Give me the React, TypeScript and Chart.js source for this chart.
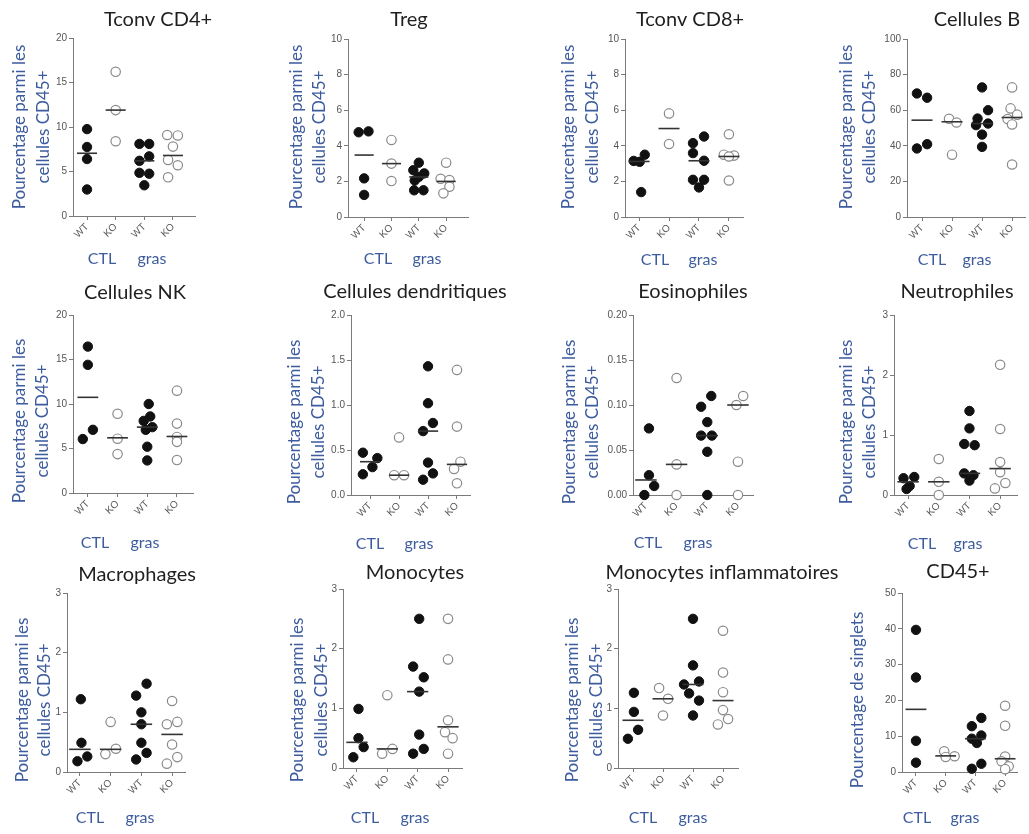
import React, { useEffect, useRef } from 'react';
import { Chart, registerables } from 'chart.js';

Chart.register(...registerables);

// ---------- labels ----------
const GROUP_LABELS = ['WT', 'KO', 'WT', 'KO'];
const CONDITIONS = ['CTL', 'gras'];
const Y_TITLE_CD45 = ['Pourcentage parmi les', 'cellules CD45+'];
const Y_TITLE_SINGLETS = ['Pourcentage de singlets'];

// ---------- data (groups: WT CTL, KO CTL, WT gras, KO gras) ----------
const tconvCD4Values = [[9.76, 7.75, 6.4, 2.98], [16.2, 11.9, 8.4], [8.1, 8.1, 6.7, 6.2, 4.85, 4.75, 3.45], [9.1, 9.05, 7.8, 6.3, 5.7, 4.35]];
const tconvCD4Jitter = [[0, 0, 0, 0], [0, 0, 0], [-0.17, 0.17, 0.17, -0.17, -0.17, 0.17, 0], [-0.2, 0.17, 0, -0.17, 0.17, -0.17]];
const tconvCD4Medians = [7.05, 11.9, 6.2, 6.8];

const tregValues = [[4.81, 4.76, 2.17, 1.24], [4.33, 3.0, 2.02], [3.05, 2.63, 2.45, 2.25, 2.05, 1.5, 1.5], [3.05, 2.15, 2.08, 1.7, 1.33]];
const tregJitter = [[0.16, -0.2, 0, 0], [0, 0, 0], [0, -0.2, 0.2, 0, -0.15, -0.17, 0.17], [0, -0.2, 0.12, 0.12, -0.1]];
const tregMedians = [3.48, 3.0, 2.25, 2.0];

const tconvCD8Values = [[3.5, 3.15, 3.1, 1.4], [5.82, 4.1], [4.52, 4.15, 3.59, 3.16, 2.09, 2.09, 1.66], [4.65, 3.5, 3.45, 3.4, 2.05]];
const tconvCD8Jitter = [[0.19, -0.18, 0.02, 0.07], [0, 0], [0.17, -0.2, -0.2, 0.17, -0.2, 0.17, 0], [0, -0.17, 0.17, 0, 0]];
const tconvCD8Medians = [3.12, 4.97, 3.16, 3.4];

const cellulesBValues = [[69.4, 67, 40.9, 38.5], [55.2, 53.1, 35], [72.8, 60, 55.3, 52.5, 51.6, 46.3, 39.4], [72.8, 61, 57.5, 55, 52, 29.5]];
const cellulesBJitter = [[-0.17, 0.17, 0.17, -0.17], [-0.1, 0.15, 0], [0, 0.2, -0.15, 0.2, -0.2, 0, 0], [0, -0.05, 0.17, -0.15, 0, 0]];
const cellulesBMedians = [54.4, 53.5, 52.5, 55.9];

const cellulesNKValues = [[16.45, 14.4, 7.1, 6.06], [8.9, 6.1, 4.37], [10.0, 8.6, 8.1, 7.4, 7.1, 5.2, 3.66], [11.5, 7.8, 6.3, 5.75, 3.7]];
const cellulesNKJitter = [[0, 0, 0.17, -0.17], [0, 0, 0], [0.05, 0.1, -0.12, 0.17, -0.05, 0, 0], [0, 0, 0, 0, 0]];
const cellulesNKMedians = [10.75, 6.2, 7.4, 6.35];

const dendritiquesValues = [[0.47, 0.41, 0.31, 0.23], [0.64, 0.22, 0.22], [1.43, 1.02, 0.8, 0.71, 0.36, 0.24, 0.17], [1.39, 0.76, 0.37, 0.29, 0.13]];
const dendritiquesJitter = [[-0.25, 0.25, 0.08, -0.25], [0, -0.17, 0.17], [0, 0, 0.17, -0.17, 0, 0.17, -0.17], [0, 0, 0.12, -0.1, 0]];
const dendritiquesMedians = [0.37, 0.22, 0.71, 0.34];

const eosinophilesValues = [[0.074, 0.022, 0.01, 0], [0.13, 0.034, 0], [0.11, 0.098, 0.081, 0.066, 0.066, 0.048, 0], [0.11, 0.1, 0.037, 0]];
const eosinophilesJitter = [[0.1, 0.1, 0.27, -0.05], [0, 0, 0], [0.13, -0.2, 0, -0.2, 0.15, 0, 0], [0.17, -0.05, 0, 0]];
const eosinophilesMedians = [0.0167, 0.034, 0.066, 0.1];

const neutrophilesValues = [[0.3, 0.28, 0.15, 0.1], [0.6, 0.22, 0], [1.4, 1.11, 0.85, 0.83, 0.36, 0.33, 0.24], [2.17, 1.1, 0.55, 0.38, 0.2, 0.11]];
const neutrophilesJitter = [[0.2, -0.15, 0.05, -0.05], [0, 0, 0], [0, 0, -0.17, 0.17, -0.17, 0.13, 0], [0, 0, 0, 0, 0.17, -0.17]];
const neutrophilesMedians = [0.22, 0.22, 0.36, 0.44];

const macrophagesValues = [[1.22, 0.49, 0.26, 0.18], [0.84, 0.39, 0.3], [1.48, 1.28, 1.0, 0.8, 0.49, 0.32, 0.21], [1.19, 0.84, 0.8, 0.46, 0.25, 0.14]];
const macrophagesJitter = [[0.03, 0.05, 0.24, -0.08], [0, 0.17, -0.17], [0.17, -0.17, 0, 0, 0, 0.17, -0.17], [0, 0.17, -0.17, 0, 0.17, -0.17]];
const macrophagesMedians = [0.38, 0.38, 0.8, 0.63];

const monocytesValues = [[0.99, 0.5, 0.35, 0.18], [1.22, 0.32, 0.24], [2.5, 1.7, 1.52, 1.28, 0.56, 0.32, 0.24], [2.5, 1.82, 0.8, 0.6, 0.5, 0.24]];
const monocytesJitter = [[0.05, 0.05, 0.22, -0.12], [0, 0.17, -0.17], [0.05, -0.15, 0.2, 0.05, 0.05, 0.2, -0.15], [0, 0, 0, -0.1, 0.15, 0]];
const monocytesMedians = [0.43, 0.32, 1.28, 0.69];

const monocytesInflValues = [[1.26, 0.94, 0.64, 0.49], [1.34, 1.16, 0.88], [2.5, 1.72, 1.45, 1.4, 1.25, 1.13, 0.88], [2.3, 1.6, 1.27, 0.97, 0.82, 0.73]];
const monocytesInflJitter = [[0.03, 0.03, 0.17, -0.17], [-0.13, 0.17, 0], [0, 0, 0.2, -0.3, -0.13, 0.2, 0], [0, 0, 0, 0, 0.17, -0.17]];
const monocytesInflMedians = [0.8, 1.16, 1.4, 1.13];

const cd45Values = [[39.7, 26.4, 8.7, 2.6], [5.8, 4.4, 4.2], [15.1, 12.8, 10.2, 9.3, 8.1, 2.3, 0.9], [18.5, 12.9, 4.3, 3.0, 1.6, 0.8]];
const cd45Jitter = [[0, 0, 0, 0], [-0.05, 0.3, 0], [0.2, -0.12, 0.2, -0.12, 0.05, 0.2, -0.12], [0, 0, 0, -0.12, 0.12, 0]];
const cd45Medians = [17.5, 4.5, 9.3, 3.7];

// ---------- panels (layout in page pixels) ----------
const PANELS = [
  { title: 'Tconv CD4+', values: tconvCD4Values, jitter: tconvCD4Jitter, medians: tconvCD4Medians, yTitle: Y_TITLE_CD45,
    axisX: 73, topY: 38, zeroY: 216, xEnd: 195, xMin: -0.49, xMax: 3.77, yMax: 20, yStep: 5, dec: 0,
    titleX: 158, titleY: 20, yTitleX: [20, 44], yTitleY: 127, ctlX: 102, grasX: 152, groupY: 259 },
  { title: 'Treg', values: tregValues, jitter: tregJitter, medians: tregMedians, yTitle: Y_TITLE_CD45,
    axisX: 348, topY: 39, zeroY: 217, xEnd: 468, xMin: -0.59, xMax: 3.8, yMax: 10, yStep: 2, dec: 0,
    titleX: 409, titleY: 20, yTitleX: [297, 320], yTitleY: 127, ctlX: 378, grasX: 427, groupY: 259 },
  { title: 'Tconv CD8+', values: tconvCD8Values, jitter: tconvCD8Jitter, medians: tconvCD8Medians, yTitle: Y_TITLE_CD45,
    axisX: 625, topY: 39, zeroY: 217, xEnd: 743, xMin: -0.47, xMax: 3.47, yMax: 10, yStep: 2, dec: 0,
    titleX: 690, titleY: 20, yTitleX: [569, 593], yTitleY: 127, ctlX: 655, grasX: 703, groupY: 260 },
  { title: 'Cellules B', values: cellulesBValues, jitter: cellulesBJitter, medians: cellulesBMedians, yTitle: Y_TITLE_CD45,
    axisX: 907, topY: 39, zeroY: 217, xEnd: 1025, xMin: -0.5, xMax: 3.43, yMax: 100, yStep: 20, dec: 0,
    titleX: 977, titleY: 20, yTitleX: [847, 870], yTitleY: 127, ctlX: 932, grasX: 977, groupY: 260 },
  { title: 'Cellules NK', values: cellulesNKValues, jitter: cellulesNKJitter, medians: cellulesNKMedians, yTitle: Y_TITLE_CD45,
    axisX: 73, topY: 315, zeroY: 493, xEnd: 193, xMin: -0.5, xMax: 3.54, yMax: 20, yStep: 5, dec: 0,
    titleX: 135, titleY: 293, yTitleX: [20, 43], yTitleY: 421, ctlX: 95, grasX: 145, groupY: 543 },
  { title: 'Cellules dendritiques', values: dendritiquesValues, jitter: dendritiquesJitter, medians: dendritiquesMedians, yTitle: Y_TITLE_CD45,
    axisX: 351, topY: 315, zeroY: 495, xEnd: 470, xMin: -0.66, xMax: 3.45, yMax: 2, yStep: 0.5, dec: 1,
    titleX: 415, titleY: 292, yTitleX: [295, 319], yTitleY: 422, ctlX: 370, grasX: 419, groupY: 544 },
  { title: 'Eosinophiles', values: eosinophilesValues, jitter: eosinophilesJitter, medians: eosinophilesMedians, yTitle: Y_TITLE_CD45,
    axisX: 633, topY: 315, zeroY: 495, xEnd: 753, xMin: -0.42, xMax: 3.49, yMax: 0.2, yStep: 0.05, dec: 2,
    titleX: 693, titleY: 292, yTitleX: [570, 593], yTitleY: 422, ctlX: 648, grasX: 698, groupY: 543 },
  { title: 'Neutrophiles', values: neutrophilesValues, jitter: neutrophilesJitter, medians: neutrophilesMedians, yTitle: Y_TITLE_CD45,
    axisX: 894, topY: 315, zeroY: 495, xEnd: 1017, xMin: -0.46, xMax: 3.55, yMax: 3, yStep: 1, dec: 0,
    titleX: 957, titleY: 292, yTitleX: [847, 870], yTitleY: 422, ctlX: 922, grasX: 968, groupY: 544 },
  { title: 'Macrophages', values: macrophagesValues, jitter: macrophagesJitter, medians: macrophagesMedians, yTitle: Y_TITLE_CD45,
    axisX: 67, topY: 593, zeroY: 772, xEnd: 185, xMin: -0.42, xMax: 3.42, yMax: 3, yStep: 1, dec: 0,
    titleX: 137, titleY: 575, yTitleX: [23, 45], yTitleY: 700, ctlX: 90, grasX: 140, groupY: 818 },
  { title: 'Monocytes', values: monocytesValues, jitter: monocytesJitter, medians: monocytesMedians, yTitle: Y_TITLE_CD45,
    axisX: 343, topY: 589, zeroY: 768, xEnd: 462, xMin: -0.46, xMax: 3.46, yMax: 3, yStep: 1, dec: 0,
    titleX: 415, titleY: 573, yTitleX: [298, 322], yTitleY: 700, ctlX: 365, grasX: 415, groupY: 818 },
  { title: 'Monocytes inflammatoires', values: monocytesInflValues, jitter: monocytesInflJitter, medians: monocytesInflMedians, yTitle: Y_TITLE_CD45,
    axisX: 618, topY: 589, zeroY: 768, xEnd: 738, xMin: -0.5, xMax: 3.5, yMax: 3, yStep: 1, dec: 0,
    titleX: 722, titleY: 573, yTitleX: [573, 597], yTitleY: 700, ctlX: 643, grasX: 693, groupY: 818 },
  { title: 'CD45+', values: cd45Values, jitter: cd45Jitter, medians: cd45Medians, yTitle: Y_TITLE_SINGLETS,
    axisX: 902, topY: 593, zeroY: 772, xEnd: 1017, xMin: -0.47, xMax: 3.4, yMax: 50, yStep: 10, dec: 0,
    titleX: 958, titleY: 572, yTitleX: [858], yTitleY: 700, ctlX: 917, grasX: 965, groupY: 818 },
];

const LEFT_W = 80;
const TOP_H = 45;
const BOTTOM_H = 85;
const CANVAS_W = 330;
const BLUE = '#3d5c9e';
const AXIS = '#7a7a7a';
const TICK_FONT = { family: '"Liberation Sans", Arial, sans-serif', size: 10 };
const TEXT_FONT = 'Lato, "Open Sans", sans-serif';

function Panel({ p }: { p: any }) {
  const ref = useRef<HTMLCanvasElement>(null);
  const ox = p.axisX - LEFT_W;
  const oy = p.topY - TOP_H;
  const height = TOP_H + (p.zeroY - p.topY) + BOTTOM_H;

  useEffect(() => {
    if (!ref.current) return;
    const datasets: any[] = [];
    p.medians.forEach((m: number, g: number) => {
      datasets.push({
        data: [{ x: g - 0.35, y: m }, { x: g + 0.35, y: m }],
        showLine: true,
        pointRadius: 0,
        borderColor: '#333',
        borderWidth: 1.6,
        clip: false,
        order: -1,
      });
    });
    p.values.forEach((vals: number[], g: number) => {
      const filled = g % 2 === 0;
      datasets.push({
        data: vals.map((v, k) => ({ x: g + p.jitter[g][k], y: v })),
        pointRadius: 4.7,
        pointBackgroundColor: filled ? '#111' : '#fff',
        pointBorderColor: filled ? '#111' : '#8a8a8a',
        pointBorderWidth: filled ? 1 : 1.2,
        clip: false,
        order: 1,
      });
    });

    const textPlugin = {
      id: 'panelText',
      afterDraw(chart: any) {
        const ctx = chart.ctx;
        ctx.save();
        ctx.textAlign = 'center';
        ctx.textBaseline = 'middle';
        ctx.fillStyle = '#1f1f1f';
        ctx.font = `20px ${TEXT_FONT}`;
        ctx.fillText(p.title, p.titleX - ox, p.titleY - oy);
        ctx.fillStyle = BLUE;
        ctx.font = `17px ${TEXT_FONT}`;
        p.yTitle.forEach((line: string, i: number) => {
          ctx.save();
          ctx.translate(p.yTitleX[i] - ox, p.yTitleY - oy);
          ctx.rotate(-Math.PI / 2);
          ctx.fillText(line, 0, 0);
          ctx.restore();
        });
        ctx.font = `16px ${TEXT_FONT}`;
        ctx.fillText(CONDITIONS[0], p.ctlX - ox, p.groupY - oy);
        ctx.fillText(CONDITIONS[1], p.grasX - ox, p.groupY - oy);
        ctx.restore();
      },
    };

    const chart = new Chart(ref.current, {
      type: 'scatter',
      data: { datasets },
      options: {
        responsive: false,
        animation: false,
        events: [],
        layout: { padding: { left: 0, top: TOP_H, right: CANVAS_W - LEFT_W - (p.xEnd - p.axisX), bottom: 0 } },
        plugins: { legend: { display: false }, tooltip: { enabled: false }, title: { display: false } },
        scales: {
          x: {
            type: 'linear',
            min: p.xMin,
            max: p.xMax,
            afterBuildTicks: (s: any) => { s.ticks = GROUP_LABELS.map((_, i) => ({ value: i })); },
            afterFit: (s: any) => { s.height = BOTTOM_H; },
            ticks: {
              autoSkip: false,
              maxRotation: 45,
              minRotation: 45,
              padding: 1,
              color: '#555',
              font: TICK_FONT,
              callback: (v: any) => GROUP_LABELS[Math.round(Number(v))],
            },
            grid: { drawOnChartArea: false, drawTicks: true, tickLength: 4, color: AXIS },
            border: { display: true, color: AXIS, width: 1 },
          },
          y: {
            type: 'linear',
            min: 0,
            max: p.yMax,
            afterFit: (s: any) => { s.width = LEFT_W; },
            ticks: {
              stepSize: p.yStep,
              padding: 2,
              color: '#555',
              font: TICK_FONT,
              callback: (v: any) => Number(v).toFixed(p.dec),
            },
            grid: { drawOnChartArea: false, drawTicks: true, tickLength: 4, color: AXIS },
            border: { display: true, color: AXIS, width: 1 },
          },
        },
      },
      plugins: [textPlugin],
    } as any);
    return () => chart.destroy();
  }, []);

  return (
    <canvas
      ref={ref}
      width={CANVAS_W}
      height={height}
      style={{ position: 'absolute', left: ox, top: oy, width: CANVAS_W, height }}
    />
  );
}

export default function App() {
  return (
    <div style={{ position: 'absolute', left: 0, top: 0, width: 1029, height: 834, overflow: 'hidden', background: '#fff' }}>
      {PANELS.map((p, i) => <Panel key={i} p={p} />)}
    </div>
  );
}
